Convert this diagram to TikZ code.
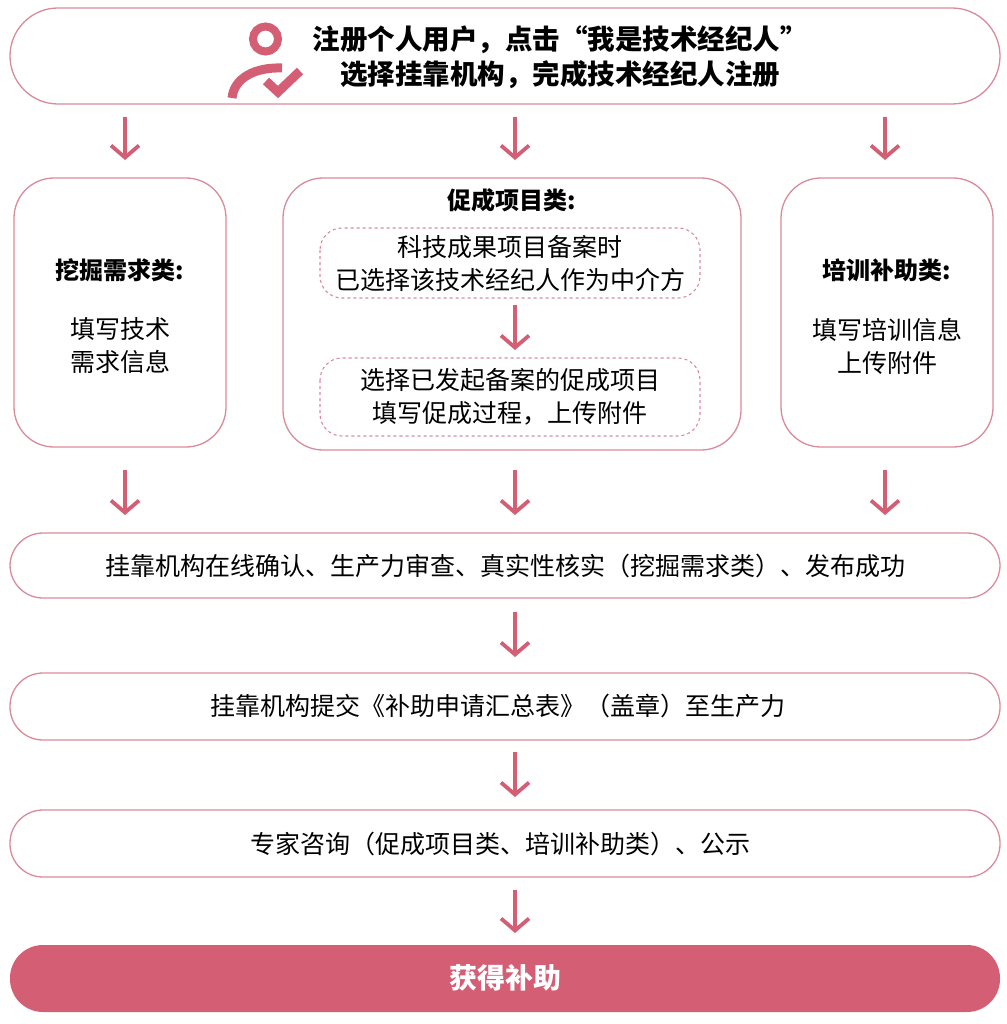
\documentclass[tikz,border=0pt]{standalone}
\usepackage{fontspec}
\setmainfont{Noto Sans CJK SC}
\usetikzlibrary{arrows.meta,positioning}
\definecolor{rosered}{HTML}{D45F75}
\definecolor{roseline}{HTML}{D98A9B}
\begin{document}
\begin{tikzpicture}[x=1pt,y=-1pt,
    RoundBox/.style={draw=roseline,line width=1.3pt},
    DashBox/.style={draw=roseline,line width=1.1pt,dashed,rounded corners=22pt},
    Step/.style={font=\fontsize{25}{33}\selectfont,align=center},
    Head/.style={font=\fontsize{24}{33}\selectfont\bfseries,align=center},
    Down/.style={draw=rosered,line width=3.8pt,-{Straight Barb[length=12pt,width=28pt,line width=3.8pt]}},
  ]
  \useasboundingbox (0,0) rectangle (1006,1024);
  % top box
  \draw[RoundBox,rounded corners=48pt] (10,8) rectangle (1000,104);
  \node[Head,font=\fontsize{27.5}{35}\selectfont\bfseries] (reg) at (560,57) {注册个人用户，点击“我是技术经纪人”\\选择挂靠机构，完成技术经纪人注册};
  % user icon
  \draw[rosered,line width=8pt] (265.5,39) circle (12.5);
  \draw[rosered,line width=9pt] (232,98) .. controls (234,78) and (255,67) .. (282,68);
  \draw[rosered,line width=9pt,line join=miter] (266,81) -- (278,92) -- (300,71);

  % three columns
  \draw[RoundBox,rounded corners=40pt] (14,178) rectangle (226,447);
  \draw[RoundBox,rounded corners=40pt] (283,178) rectangle (741,450);
  \draw[RoundBox,rounded corners=40pt] (781,178) rectangle (993,447);
  \node[Head] (digT) at (120,270) {挖掘需求类:};
  \node[Step] (digB) at (120,346) {填写技术\\需求信息};
  \node[Head] (proT) at (512,200) {促成项目类:};
  \node[Head] (traT) at (887,270) {培训补助类:};
  \node[Step] (traB) at (887,346) {填写培训信息\\上传附件};
  \draw[DashBox] (320,228) rectangle (700,298);
  \draw[DashBox] (320,358) rectangle (700,436);
  \node[Step] (proA) at (510,263) {科技成果项目备案时\\已选择该技术经纪人作为中介方};
  \node[Step] (proB) at (510,397) {选择已发起备案的促成项目\\填写促成过程，上传附件};

  % lower steps
  \draw[RoundBox,rounded corners=33pt] (10,533) rectangle (1000,598);
  \node[Step] (chk) at (505,566) {挂靠机构在线确认、生产力审查、真实性核实（挖掘需求类）、发布成功};
  \draw[RoundBox,rounded corners=33pt] (10,673) rectangle (1000,740);
  \node[Step] (sub) at (498,706) {挂靠机构提交《补助申请汇总表》（盖章）至生产力};
  \draw[RoundBox,rounded corners=33pt] (10,810) rectangle (1000,877);
  \node[Step] (exp) at (500,844) {专家咨询（促成项目类、培训补助类）、公示};
  \fill[rosered,rounded corners=33pt] (10,945) rectangle (1000,1012);
  \node[Head,text=white,font=\fontsize{28}{32}\selectfont\bfseries] (get) at (505,978) {获得补助};

  % arrows
  \foreach \ax in {125,515,885} {
    \draw[Down] (\ax,117) -- (\ax,160);
    \draw[Down] (\ax,470) -- (\ax,515);
  }
  \draw[Down] (515,305) -- (515,350);
  \draw[Down] (515,612) -- (515,657);
  \draw[Down] (515,752) -- (515,797);
  \draw[Down] (515,890) -- (515,933);
\end{tikzpicture}
\end{document}
